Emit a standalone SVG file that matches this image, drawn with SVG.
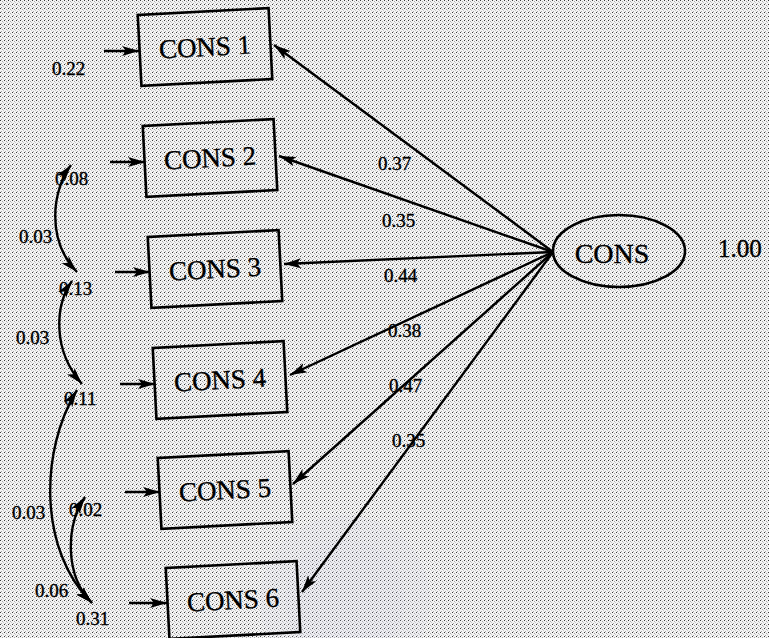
<svg xmlns="http://www.w3.org/2000/svg" width="769" height="638" viewBox="0 0 769 638">
<defs>
<pattern id="stip" width="4" height="4" patternUnits="userSpaceOnUse">
<rect width="4" height="4" fill="#f4f4f4"/>
<rect x="0" y="0" width="1" height="1" fill="#3a3a3a"/>
<rect x="2" y="1" width="1" height="1" fill="#a8a8a8"/>
<rect x="1" y="3" width="1" height="1" fill="#a8a8a8"/>
<rect x="3" y="2" width="1" height="1" fill="#c8c8c8"/>
</pattern>
<marker id="ah" markerUnits="userSpaceOnUse" markerWidth="18" markerHeight="11" refX="17" refY="5.5" orient="auto-start-reverse">
<path d="M0,0.5 L17,5.5 L0,10.5 L4,5.5 z" fill="#000"/>
</marker>
</defs>
<style>
.box{fill:none;stroke:#000;stroke-width:2.6}
.lbl{font-family:"Liberation Serif","Times New Roman",serif;fill:#000;stroke:#000;stroke-width:0.35}
.nt{font-size:27px;text-anchor:middle}
.val{font-size:19px}
.edge{fill:none;stroke:#000;stroke-width:2.4;marker-end:url(#ah)}
.cov{fill:none;stroke:#000;stroke-width:2.4;marker-start:url(#ah);marker-end:url(#ah)}
</style>
<rect width="769" height="638" fill="url(#stip)"/>
<g id="watermark" opacity="0.15">
<circle cx="345" cy="600" r="85" fill="#d8d8ea"/>
<circle cx="345" cy="600" r="60" fill="#c8c8e8"/>
</g>
<g id="connectors">
<line class="edge" x1="553" y1="252" x2="274" y2="45"/>
<line class="edge" x1="553" y1="252" x2="279" y2="156"/>
<line class="edge" x1="553" y1="252" x2="284" y2="264"/>
<line class="edge" x1="553" y1="252" x2="290" y2="375"/>
<line class="edge" x1="553" y1="252" x2="293" y2="484"/>
<line class="edge" x1="553" y1="252" x2="302" y2="592"/>
<line class="edge" x1="104" y1="51" x2="139" y2="51"/>
<line class="edge" x1="110" y1="162" x2="145" y2="162"/>
<line class="edge" x1="115" y1="272" x2="150" y2="272"/>
<line class="edge" x1="120" y1="384" x2="155" y2="384"/>
<line class="edge" x1="125" y1="492" x2="160" y2="492"/>
<line class="edge" x1="129" y1="603" x2="167" y2="603"/>
<path class="cov" d="M71,165 C52,190 46,240 77,272"/>
<path class="cov" d="M72,281 C55,305 52,350 82,384"/>
<path class="cov" d="M77,390 C40,450 38,550 92,603"/>
<path class="cov" d="M85,497 C66,525 64,575 92,603"/>
<g class="lbl val">
<text x="378" y="170">0.37</text>
<text x="382" y="227">0.35</text>
<text x="384" y="282">0.44</text>
<text x="388" y="337">0.38</text>
<text x="389" y="392">0.47</text>
<text x="392" y="447">0.35</text>
<text x="52" y="75">0.22</text>
<text x="55" y="185">0.08</text>
<text x="19" y="243">0.03</text>
<text x="59" y="295">0.13</text>
<text x="16" y="344">0.03</text>
<text x="64" y="405">0.11</text>
<text x="12" y="519">0.03</text>
<text x="69" y="516">0.02</text>
<text x="35" y="597">0.06</text>
<text x="76" y="625">0.31</text>
</g>
</g>
<g id="cons1" transform="translate(205,47) rotate(-3)"><rect class="box" x="-65.5" y="-35.5" width="131" height="71"/><text class="lbl nt" x="0" y="9">CONS 1</text></g>
<g id="cons2" transform="translate(210,158) rotate(-3)"><rect class="box" x="-65.5" y="-35.5" width="131" height="71"/><text class="lbl nt" x="0" y="9">CONS 2</text></g>
<g id="cons3" transform="translate(215,269) rotate(-3)"><rect class="box" x="-65.5" y="-35.5" width="131" height="71"/><text class="lbl nt" x="0" y="9">CONS 3</text></g>
<g id="cons4" transform="translate(220,380) rotate(-3)"><rect class="box" x="-65.5" y="-35.5" width="131" height="71"/><text class="lbl nt" x="0" y="9">CONS 4</text></g>
<g id="cons5" transform="translate(225,490) rotate(-3)"><rect class="box" x="-65.5" y="-35.5" width="131" height="71"/><text class="lbl nt" x="0" y="9">CONS 5</text></g>
<g id="cons6" transform="translate(233,600) rotate(-3)"><rect class="box" x="-65.5" y="-35.5" width="131" height="71"/><text class="lbl nt" x="0" y="9">CONS 6</text></g>
<g id="cons">
<ellipse class="box" cx="619" cy="251" rx="66" ry="36"/>
<text class="lbl nt" x="612" y="263" style="font-size:28px">CONS</text>
<text class="lbl" x="718" y="257" style="font-size:25px">1.00</text>
</g>
</svg>
